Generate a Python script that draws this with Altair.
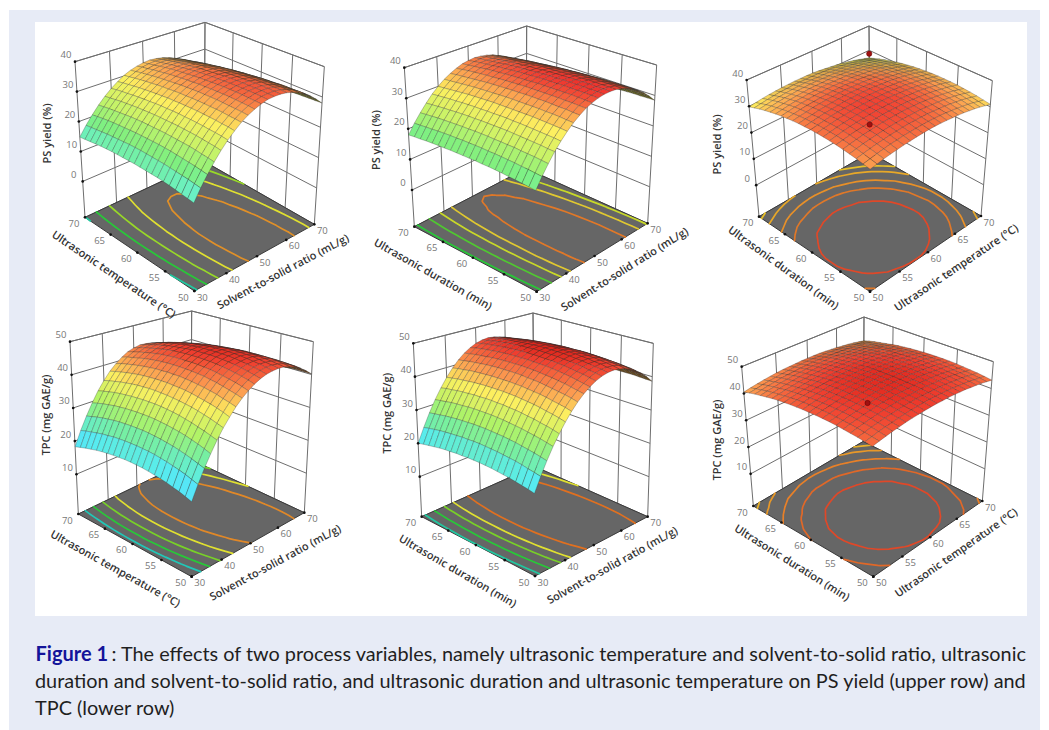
import altair as alt
W, H = 1033, 722
# Coded factor levels of the mesh: -1 is the low end of an axis, +1 the high end.
xs = [-1,-.9,-.8,-.7,-.6,-.5,-.4,-.3,-.2,-.1,0,.1,.2,.3,.4,.5,.6,.7,.8,.9,1]
N = len(xs)
# Surface heights in tenths of a unit, rows = second factor low to high, columns = first factor low to high.
# Corners, silhouettes and contour crossings were read off,
# and the mesh points between those readings were worked out by hand as a smooth fit to them.
PS_TEMP_RATIO = [
[138,173,204,233,259,282,302,320,334,345,354,360,362,362,359,353,344,333,318,300,280],
[141,176,207,236,262,285,305,322,336,347,355,361,363,363,360,354,345,333,318,300,279],
[144,179,210,238,264,287,306,323,337,348,356,362,364,364,360,354,344,332,317,299,278],
[147,181,212,241,266,288,308,325,338,349,357,362,364,364,360,353,344,332,316,298,277],
[150,183,214,243,268,290,309,326,339,350,358,362,364,364,360,353,343,331,315,297,276],
[152,185,216,244,269,291,310,326,340,350,358,362,364,363,359,352,342,329,314,295,274],
[154,187,218,245,270,292,311,327,340,350,358,362,364,362,358,351,341,328,312,293,272],
[155,188,219,246,271,292,311,327,340,350,357,361,363,361,357,349,339,326,310,291,269],
[156,189,220,247,271,293,311,327,340,349,356,360,362,360,355,348,337,324,308,288,266],
[157,190,220,247,271,293,311,326,339,349,355,359,360,358,353,346,335,321,305,286,263],
[158,191,220,247,271,292,310,326,338,347,354,358,358,356,351,343,332,319,302,282,260],
[158,191,220,247,271,292,310,325,337,346,352,356,356,354,349,341,330,316,299,279,256],
[158,191,220,247,270,291,308,323,335,344,350,354,354,352,346,338,326,312,295,275,252],
[158,190,219,246,269,289,307,322,333,342,348,351,351,349,343,334,323,309,291,271,248],
[158,189,218,245,268,288,305,320,331,340,346,348,348,346,340,331,319,305,287,267,244],
[157,188,217,243,266,286,303,317,329,337,343,345,345,342,336,327,315,300,283,262,239],
[156,187,216,241,264,284,301,315,326,334,340,342,342,338,332,323,311,296,278,257,234],
[154,185,214,239,262,281,298,312,323,331,336,338,338,334,328,318,306,291,273,252,228],
[152,183,212,237,259,279,295,309,320,327,332,334,334,330,323,314,301,286,268,246,222],
[150,181,209,234,256,276,292,305,316,324,328,330,329,325,318,309,296,280,262,241,216],
[148,179,206,231,253,272,288,302,312,319,324,326,324,320,313,303,290,275,256,234,210],
]
PS_DURATION_RATIO = [
[176,208,237,264,287,308,326,341,354,363,370,374,375,374,369,362,352,339,324,305,284],
[178,210,239,265,289,310,327,342,355,364,371,375,376,374,370,362,352,339,324,305,284],
[180,212,241,267,290,311,329,344,356,365,372,375,376,374,370,362,352,339,323,305,283],
[182,213,242,268,291,312,330,344,356,366,372,376,377,375,370,362,352,339,323,304,283],
[183,215,243,269,292,313,330,345,357,366,372,376,377,375,370,362,352,338,322,303,282],
[185,216,245,270,293,314,331,346,357,366,373,376,377,374,369,362,351,338,321,302,281],
[186,217,245,271,294,314,331,346,357,366,372,376,376,374,369,361,350,337,320,301,279],
[187,218,246,272,294,314,331,346,357,366,372,375,376,373,368,360,349,335,319,300,278],
[187,218,246,272,295,314,331,346,357,366,372,375,375,372,367,359,348,334,318,298,276],
[188,219,247,272,295,314,331,345,357,365,371,374,374,371,366,358,346,333,316,296,274],
[188,219,247,272,294,314,331,345,356,364,370,373,373,370,364,356,345,331,314,294,272],
[188,219,247,272,294,314,330,344,355,363,369,372,371,369,363,354,343,329,312,292,270],
[188,219,246,271,293,313,329,343,354,362,368,370,370,367,361,352,341,327,310,290,267],
[188,218,246,271,293,312,328,342,353,361,366,369,368,365,359,350,339,324,307,287,265],
[187,218,245,270,292,311,327,341,351,359,364,367,366,363,357,348,336,322,305,284,262],
[187,217,244,269,291,310,326,339,350,358,363,365,364,361,355,346,334,319,302,282,259],
[186,216,243,267,289,308,324,337,348,356,360,362,362,358,352,343,331,316,299,278,255],
[185,214,242,266,288,306,322,335,346,353,358,360,359,356,349,340,328,313,295,275,252],
[183,213,240,264,286,304,320,333,344,351,356,357,356,353,346,337,325,310,292,271,248],
[182,211,238,262,284,302,318,331,341,348,353,355,354,350,343,334,321,306,288,268,244],
[180,210,236,260,282,300,316,328,338,346,350,352,350,346,340,330,318,302,284,264,240],
]
PS_DURATION_TEMP = [
[338,342,346,349,351,353,354,355,355,355,354,352,349,346,343,339,334,329,323,316,309],
[342,346,350,353,356,357,359,359,359,359,358,356,354,351,347,343,338,333,327,320,313],
[346,350,354,357,359,361,362,363,363,362,361,360,357,354,351,347,342,337,331,324,317],
[349,353,357,360,362,364,365,366,366,365,364,363,360,357,354,350,345,340,334,327,320],
[351,355,359,362,364,366,368,368,368,368,367,365,363,360,356,352,347,342,336,329,322],
[353,357,361,364,366,368,369,370,370,369,368,367,364,361,358,354,349,343,338,331,324],
[354,358,362,365,367,369,370,371,371,370,369,368,365,362,359,355,350,344,339,332,325],
[354,358,362,365,367,369,371,371,371,371,370,368,365,363,359,355,350,345,339,332,325],
[354,358,361,365,367,369,370,371,371,370,369,367,365,362,359,354,350,344,338,332,325],
[353,357,360,364,366,368,369,370,370,369,368,366,364,361,358,353,349,343,337,331,324],
[351,355,359,362,364,366,368,368,368,368,367,365,362,360,356,352,347,342,336,329,322],
[349,353,356,360,362,364,365,366,366,365,364,362,360,357,354,349,345,339,333,327,320],
[346,350,353,357,359,361,362,363,363,362,361,359,357,354,351,346,342,336,330,324,317],
[342,346,350,353,355,357,358,359,359,359,357,356,353,350,347,343,338,333,327,320,313],
[338,342,346,349,351,353,354,355,355,354,353,352,349,346,343,339,334,328,323,316,309],
[333,337,341,344,346,348,349,350,350,349,348,347,344,341,338,334,329,323,318,311,304],
[327,331,335,338,340,342,344,344,344,344,343,341,339,336,332,328,323,318,312,305,298],
[321,325,329,332,334,336,337,338,338,337,336,335,332,329,326,322,317,312,306,299,292],
[314,318,322,325,327,329,330,331,331,330,329,328,325,322,319,315,310,305,299,292,285],
[306,310,314,317,320,321,323,323,323,323,322,320,318,315,311,307,302,297,291,284,277],
[298,302,306,309,311,313,314,315,315,315,314,312,309,306,303,299,294,289,283,276,269],
]
TPC_TEMP_RATIO = [
[176,214,249,281,311,338,361,383,401,416,429,439,446,450,452,451,446,440,430,417,402],
[182,220,255,288,317,344,368,389,407,422,435,444,451,455,456,454,449,442,432,418,402],
[188,226,261,294,323,350,374,394,412,428,440,449,455,459,459,457,452,444,433,419,402],
[192,231,266,299,328,355,379,400,417,432,444,453,459,462,462,459,454,445,433,419,401],
[197,235,271,304,333,360,383,404,422,436,448,457,462,465,465,461,455,445,433,418,399],
[200,239,275,308,337,364,387,408,425,440,451,460,465,467,466,462,455,445,432,416,397],
[203,242,278,311,341,367,391,411,429,443,454,462,467,469,467,463,455,445,431,414,394],
[206,245,281,314,344,370,394,414,431,445,456,464,468,470,468,463,455,444,429,412,391],
[208,247,283,316,346,372,396,416,433,447,457,465,469,470,468,462,454,442,427,409,387],
[209,248,285,318,348,374,397,418,434,448,458,465,469,470,467,461,452,439,424,405,383],
[210,249,286,319,349,375,399,418,435,448,458,465,469,469,466,459,450,436,420,400,378],
[210,249,286,319,349,376,399,419,435,448,458,465,468,467,464,457,447,433,416,395,372],
[209,249,286,319,349,376,399,418,435,448,457,463,466,465,461,454,443,429,411,390,365],
[208,248,285,318,348,375,398,418,434,446,456,461,464,463,458,450,439,424,406,384,358],
[206,247,284,317,347,374,397,416,432,445,454,459,461,459,454,446,434,418,399,377,351],
[204,244,282,315,345,372,395,414,430,442,451,456,458,456,450,441,429,412,393,370,343],
[201,242,279,313,343,369,392,411,427,439,447,452,454,451,445,436,423,406,385,362,334],
[197,238,276,309,340,366,389,408,423,435,443,448,449,446,440,430,416,399,378,353,325],
[193,234,272,306,336,362,385,404,419,431,439,443,444,440,434,423,409,391,369,344,315],
[188,230,267,301,332,358,381,400,415,426,434,438,438,434,427,416,401,382,360,334,304],
[183,225,262,296,327,353,376,394,409,421,428,432,431,427,420,408,393,373,350,324,293],
]
TPC_DURATION_RATIO = [
[198,236,271,303,331,357,380,400,417,431,442,450,455,457,455,451,444,434,421,405,386],
[202,240,275,307,336,362,385,405,421,435,446,454,459,460,459,455,447,437,423,407,387],
[205,243,279,311,340,366,389,409,425,439,450,457,462,464,462,457,450,439,425,408,388],
[208,247,282,314,343,369,392,412,429,443,453,461,465,466,465,460,452,441,427,409,389],
[211,250,285,317,347,373,396,415,432,446,456,464,468,469,467,462,454,442,428,410,389],
[213,252,288,320,349,376,399,418,435,449,459,466,470,471,469,464,455,443,429,411,389],
[215,254,290,322,352,378,401,421,437,451,461,468,472,473,470,465,456,444,429,410,389],
[217,256,292,324,354,380,403,423,439,453,463,470,474,474,471,466,457,444,429,410,388],
[218,257,293,326,355,382,405,424,441,454,464,471,475,475,472,466,457,444,428,409,387],
[219,258,294,327,357,383,406,426,442,455,465,472,475,476,472,466,456,443,427,408,385],
[219,259,295,328,357,384,407,427,443,456,466,473,476,476,472,466,456,443,426,406,383],
[219,259,295,328,358,384,407,427,443,456,466,473,476,475,472,465,455,441,424,404,381],
[218,258,295,328,358,384,407,427,443,456,466,472,475,475,471,464,453,439,422,402,378],
[218,258,294,328,357,384,407,427,443,456,465,472,474,474,470,462,451,437,420,399,374],
[216,256,293,327,357,383,406,426,442,455,464,470,473,472,468,460,449,435,417,395,371],
[215,255,292,325,355,382,405,425,441,454,463,469,471,470,466,458,447,432,414,392,367],
[213,253,290,324,354,380,404,423,439,452,461,467,469,468,463,455,444,428,410,388,362],
[210,251,288,322,352,378,402,421,437,450,459,465,467,465,460,452,440,425,406,383,357],
[207,248,285,319,349,376,399,419,435,448,457,462,464,462,457,449,436,421,401,378,352],
[204,245,282,316,347,373,397,416,432,445,454,459,461,459,454,445,432,416,396,373,346],
[200,241,279,313,343,370,393,413,429,441,450,455,457,455,449,440,427,411,391,367,340],
]
TPC_DURATION_TEMP = [
[435,440,444,448,451,454,456,457,458,459,459,458,458,456,454,452,448,445,441,436,431],
[439,443,448,451,454,457,459,461,462,463,463,462,461,460,458,455,452,449,444,440,435],
[442,446,451,454,458,460,462,464,465,466,466,465,464,463,461,458,455,452,448,443,438],
[444,449,453,457,460,463,465,467,468,468,468,468,467,465,463,461,458,454,450,445,440],
[446,451,455,459,462,465,467,469,470,470,470,470,469,467,465,463,460,456,452,447,442],
[448,452,457,460,464,466,468,470,471,472,472,471,470,469,467,464,461,458,454,449,444],
[449,453,458,461,464,467,469,471,472,473,473,472,471,470,468,465,462,459,454,450,445],
[449,454,458,462,465,468,470,471,472,473,473,473,472,470,468,466,462,459,455,450,445],
[449,454,458,462,465,467,470,471,472,473,473,472,472,470,468,465,462,459,455,450,445],
[448,453,457,461,464,467,469,471,472,472,472,472,471,469,467,465,462,458,454,449,444],
[447,452,456,460,463,466,468,469,470,471,471,471,470,468,466,464,460,457,453,448,443],
[445,450,454,458,461,464,466,468,469,469,469,469,468,466,464,462,459,455,451,446,441],
[443,448,452,456,459,461,464,465,466,467,467,466,466,464,462,459,456,453,449,444,439],
[440,445,449,453,456,459,461,462,463,464,464,464,463,461,459,457,453,450,446,441,436],
[437,441,446,449,452,455,457,459,460,461,461,460,459,458,456,453,450,447,442,438,433],
[433,437,442,445,449,451,453,455,456,457,457,456,455,454,452,449,446,443,439,434,429],
[428,433,437,441,444,447,449,451,452,452,452,452,451,449,447,445,442,438,434,429,424],
[423,428,432,436,439,442,444,446,447,447,447,447,446,444,442,440,437,433,429,424,419],
[418,422,427,430,434,436,438,440,441,442,442,441,440,439,437,434,431,428,424,419,414],
[412,416,421,424,427,430,432,434,435,436,436,435,434,433,431,428,425,422,417,413,408],
[405,410,414,418,421,424,426,427,428,429,429,429,428,426,424,422,418,415,411,406,401],
]

PS_STOPS = [(10,'#4fd8ff'),(14,'#62f0e0'),(20,'#80f080'),(25,'#c8f468'),(30,'#fdf060'),(34,'#fca050'),(37.5,'#f03830'),(40,'#c80000')]
TPC_STOPS = [(14,'#4fb8ff'),(18,'#55e0ff'),(22,'#58ecf0'),(27,'#78f0a0'),(31,'#b0f468'),(37,'#fdf060'),(41.5,'#fc9a50'),(46,'#f04030'),(50,'#c80000')]

PANELS = [
 dict(grid=PS_TEMP_RATIO, off=(35,15), F=(478,828), R=(838,628), L=(150,607), TL=(120,140), TR=(868,155), TB=(510,22), zr=(-12,40), zt=[0,10,20,30,40], stops=PS_STOPS, tr=1.18,
      ul=[30,40,50,60,70], vl=[50,55,60,65,70], levels=[15,20,25,30,34], lc=['#20c8a0','#28c838','#98d828','#e0e030','#e09028'],
      zt_title='PS yield (%)', vt='Ultrasonic temperature (°C)', ut='Solvent-to-solid ratio (mL/g)',
      tz=(38,355), tv=(235,780,34), tu=(745,772,-28), dots=[]),
 dict(grid=PS_DURATION_RATIO, off=(365,15), F=(515,830), R=(848,625), L=(148,635), TL=(118,158), TR=(875,150), TB=(485,33), zr=(-12,40), zt=[0,10,20,30,40], stops=PS_STOPS, tr=1.18,
      ul=[30,40,50,60,70], vl=[50,55,60,65,70], levels=[19.5,24.8,28.9,32,35.5], lc=['#28c838','#50c830','#c8d828','#e0c830','#e07828'],
      zt_title='PS yield (%)', vt='Ultrasonic duration (min)', ut='Solvent-to-solid ratio (mL/g)',
      tz=(35,375), tv=(203,780,29.4), tu=(780,765,-32), dots=[]),
 dict(grid=PS_DURATION_TEMP, off=(695,15), F=(525,830), R=(858,603), L=(192,605), TL=(155,195), TR=(892,197), TB=(522,33), zr=(-12,40), zt=[0,10,20,30,40], stops=PS_STOPS, tr=1.33,
      ul=[50,55,60,65,70], vl=[50,55,60,65,70], levels=[35.55,34.1,32.9,31.4,30.2], lc=['#e04828','#e07828','#e89028','#e8a828','#e8c028'],
      zt_title='PS yield (%)', vt='Ultrasonic duration (min)', ut='Ultrasonic temperature (°C)',
      tz=(70,388), tv=(264,760,36), tu=(785,760,-34), dots=[(0,0,23.1),(1,1,28.6)]),
 dict(grid=TPC_TEMP_RATIO, off=(35,320), F=(470,770), R=(808,578), L=(130,582), TL=(105,65), TR=(835,65), TB=(470,-27), zr=(-2,50), zt=[10,20,30,40,50], stops=TPC_STOPS, tr=1.18,
      ul=[30,40,50,60,70], vl=[50,55,60,65,70], levels=[23,28,33,38,43], lc=['#20c8b8','#28c838','#78d028','#e0e030','#e08828'],
      zt_title='TPC (mg GAE/g)', vt='Ultrasonic temperature (°C)', ut='Solvent-to-solid ratio (mL/g)',
      tz=(36,285), tv=(240,748,29), tu=(722,730,-28.4), dots=[]),
 dict(grid=TPC_DURATION_RATIO, off=(365,320), F=(510,768), R=(848,590), L=(170,590), TL=(145,70), TR=(865,70), TB=(504,-21), zr=(-2,50), zt=[10,20,30,40,50], stops=TPC_STOPS, tr=1.18,
      ul=[30,40,50,60,70], vl=[50,55,60,65,70], levels=[22.5,28.4,33.7,37.8,42.6], lc=['#20c8a0','#28c838','#78d028','#e0e030','#e07020'],
      zt_title='TPC (mg GAE/g)', vt='Ultrasonic duration (min)', ut='Solvent-to-solid ratio (mL/g)',
      tz=(68,280), tv=(277,755,30), tu=(743,738,-29), dots=[]),
 dict(grid=TPC_DURATION_TEMP, off=(695,320), F=(535,770), R=(862,543), L=(175,558), TL=(140,140), TR=(895,125), TB=(507,-9), zr=(-2,50), zt=[10,20,30,40,50], stops=TPC_STOPS, tr=1.35,
      ul=[50,55,60,65,70], vl=[50,55,60,65,70], levels=[46,44.7,43.4,42,41], lc=['#e04828','#e06828','#e88028','#e89828','#e8b028'],
      zt_title='TPC (mg GAE/g)', vt='Ultrasonic duration (min)', ut='Ultrasonic temperature (°C)',
      tz=(68,360), tv=(290,730,32), tu=(785,700,-35), dots=[(0,0,35.5)]),
]
RATIO = 1.18
def rgb(h): return [int(h[i:i+2],16) for i in (1,3,5)]
def cmap(z, stops, shade=1.0):
    if z <= stops[0][0]: c = rgb(stops[0][1])
    elif z >= stops[-1][0]: c = rgb(stops[-1][1])
    else:
        for (a,ca),(b,cb) in zip(stops, stops[1:]):
            if a <= z <= b:
                t = (z-a)/(b-a); A, B = rgb(ca), rgb(cb)
                c = [A[i]+(B[i]-A[i])*t for i in range(3)]
                break
    return '#%02x%02x%02x' % tuple(int(max(0,min(255,v*shade))) for v in c)
def homog(p0,p1,p2,p3):
    x0,y0=p0;x1,y1=p1;x2,y2=p2;x3,y3=p3
    sx=x0-x1+x2-x3; sy=y0-y1+y2-y3
    dx1=x1-x2;dx2=x3-x2;dy1=y1-y2;dy2=y3-y2
    den=dx1*dy2-dx2*dy1
    g=(sx*dy2-dx2*sy)/den; h=(dx1*sy-sx*dy1)/den
    A=x1-x0+g*x1;B=x3-x0+h*x3;D=y1-y0+g*y1;E=y3-y0+h*y3
    def f(a,b):
        w=g*a+h*b+1
        return ((A*a+B*b+x0)/w,(D*a+E*b+y0)/w)
    return f
def feat(kind, coords, **props):
    return {'type':'Feature','geometry':{'type':kind,'coordinates':coords},'properties':props}
def area(q):
    return 0.5*sum(q[i][0]*q[(i+1)%4][1]-q[(i+1)%4][0]*q[i][1] for i in range(4))

walls, floors, contours, quads = [], [], [], []
labels, titles, dots, tickdots = [], [], [], []
for k,p in enumerate(PANELS):
    ox,oy=p['off']
    g=lambda q:(ox+q[0]/3-8, oy+q[1]/3-8)
    F,R,L,TL,TR,TB=[g(p[n]) for n in ('F','R','L','TL','TR','TB')]
    mid=((L[0]+R[0])/2,(L[1]+R[1])/2)
    B=(mid[0]-(F[0]-mid[0])/RATIO, mid[1]-(F[1]-mid[1])/RATIO)
    mt=((TL[0]+TR[0])/2,(TL[1]+TR[1])/2)
    TF=(mt[0]+(mt[0]-TB[0])*p['tr'], mt[1]+(mt[1]-TB[1])*p['tr'])
    hf=homog(F,R,B,L); ht=homog(TF,TR,TB,TL)
    zlo,zhi=p['zr']
    def P(x,y,z,hf=hf,ht=ht,zlo=zlo,zhi=zhi):
        a,b=(x+1)/2,(y+1)/2
        f0=hf(a,b);t0=ht(a,b);w=(z-zlo)/(zhi-zlo)
        return [f0[0]+(t0[0]-f0[0])*w,f0[1]+(t0[1]-f0[1])*w]
    tk=[-1,-.5,0,.5,1]
    lines=[]
    for z in p['zt']+[zhi,zlo]:
        lines.append([P(-1,1,z),P(1,1,z),P(1,-1,z)])
    for t in tk:
        lines.append([P(t,1,zlo),P(t,1,zhi)])
        lines.append([P(1,t,zlo),P(1,t,zhi)])
    walls.append(feat('MultiLineString',lines))
    floors.append(feat('Polygon',[[P(-1,-1,zlo),P(1,-1,zlo),P(1,1,zlo),P(-1,1,zlo),P(-1,-1,zlo)]]))
    Z=[[v/10 for v in row] for row in p['grid']]
    for lev0,col in zip(p['levels'],p['lc']):
        lev=lev0+0.0137  # keeps a level off the tenths of the grid, so no crossing is lost to a tie
        segs=[]
        for j in range(N-1):
            for i in range(N-1):
                c=[(i,j),(i+1,j),(i+1,j+1),(i,j+1)]
                pts=[]
                for m in range(4):
                    a,b=c[m],c[(m+1)%4]
                    za,zb=Z[a[1]][a[0]],Z[b[1]][b[0]]
                    if (za-lev)*(zb-lev)<0:
                        t=(lev-za)/(zb-za)
                        pts.append(P(xs[a[0]]+(xs[b[0]]-xs[a[0]])*t, xs[a[1]]+(xs[b[1]]-xs[a[1]])*t, zlo))
                if len(pts)>=2: segs.append(pts[:2])
                if len(pts)==4: segs.append(pts[2:])
        contours.append(feat('MultiLineString',segs,c=col))
    for i in range(N-2,-1,-1):
        for j in range(N-2,-1,-1):
            zs=[Z[j][i],Z[j][i+1],Z[j+1][i+1],Z[j+1][i]]
            q=[P(xs[i],xs[j],zs[0]),P(xs[i+1],xs[j],zs[1]),P(xs[i+1],xs[j+1],zs[2]),P(xs[i],xs[j+1],zs[3])]
            zm=sum(zs)/4
            fl=[P(xs[i],xs[j],zm),P(xs[i+1],xs[j],zm),P(xs[i+1],xs[j+1],zm),P(xs[i],xs[j+1],zm)]
            s=area(q)/area(fl)
            sh=1.0 if s>=.75 else max(.4,.5+.5*s/.75)
            quads.append(feat('Polygon',[q+[q[0]]],c=cmap(zm,p['stops'],sh)))
    for t,u,v in zip(tk,p['ul'],p['vl']):
        a=P(t,-1,zlo); b=P(-1,t,zlo)
        labels.append(dict(x=a[0]+8,y=a[1]+6.5,t=str(u)))
        labels.append(dict(x=b[0]-11,y=b[1]+6.5,t=str(v)))
        tickdots += [dict(x=a[0],y=a[1]),dict(x=b[0],y=b[1])]
    for z in p['zt']:
        a=P(-1,1,z)
        labels.append(dict(x=a[0]-9,y=a[1]-6.5,t=str(z)))
        tickdots.append(dict(x=a[0],y=a[1]))
    sc=lambda q:(ox+q[0]/3-8,oy+q[1]/3-8)
    a=sc(p['tz']); titles.append(dict(x=a[0],y=a[1],t=p['zt_title'],a=270))
    a=sc(p['tv']); titles.append(dict(x=a[0],y=a[1],t=p['vt'],a=p['tv'][2]))
    a=sc(p['tu']); titles.append(dict(x=a[0],y=a[1],t=p['ut'],a=p['tu'][2]%360))
    for d in p['dots']:
        a=P(*d); dots.append(dict(x=a[0],y=a[1]))

X=lambda f='x':alt.X(f+':Q',scale=alt.Scale(domain=[0,W]),axis=None)
Y=lambda f='y':alt.Y(f+':Q',scale=alt.Scale(domain=[H,0]),axis=None)
geo=lambda data,**kw:alt.Chart(alt.Data(values=data)).mark_geoshape(**kw).project(type='identity',scale=1,translate=[0,0])

bg=[dict(x=1,x2=1032,y=2,y2=722,c='#e7ebf6'),dict(x=27,x2=1019,y=14,y2=608,c='#ffffff')]
L_bg=alt.Chart(alt.Data(values=bg)).mark_rect().encode(x=X(),x2='x2:Q',y=Y(),y2='y2:Q',color=alt.Color('c:N',scale=None))
L_w=geo(walls,filled=False,stroke='#6e6e6e',strokeWidth=1)
L_f=geo(floors,filled=True,fill='#666666',stroke='#3a3a3a',strokeWidth=1)
L_c=geo(contours,filled=False,strokeWidth=1.7,strokeCap='round').encode(stroke=alt.Stroke('properties.c:N',scale=None))
L_q=geo(quads,filled=True,stroke='#2b2b2b',strokeWidth=.55,strokeOpacity=.5).encode(color=alt.Color('properties.c:N',scale=None))
L_t=alt.Chart(alt.Data(values=tickdots)).mark_circle(size=7,color='#111',opacity=1).encode(x=X(),y=Y())
L_d=alt.Chart(alt.Data(values=dots)).mark_circle(size=28,color='#a01010',opacity=1,stroke='#600000',strokeWidth=.5).encode(x=X(),y=Y())
L_l=alt.Chart(alt.Data(values=labels)).mark_text(font='Open Sans',fontSize=9.5,color='#777777').encode(x=X(),y=Y(),text='t:N')
L_ti=alt.Chart(alt.Data(values=titles)).mark_text(font='Open Sans',fontSize=11,fontWeight=600,color='#333333').encode(x=X(),y=Y(),text='t:N',angle=alt.Angle('a:Q',scale=None))
CAP=[dict(x=103.5,y=652.5,t=': The effects of two process variables, namely ultrasonic temperature and solvent-to-solid ratio, ultrasonic'),
     dict(x=27,y=680,t='duration and solvent-to-solid ratio, and ultrasonic duration and ultrasonic temperature on PS yield (upper row) and'),
     dict(x=27,y=707,t='TPC (lower row)')]
L_cap=alt.Chart(alt.Data(values=CAP)).mark_text(font='Lato',fontSize=19.88,align='left',baseline='alphabetic',color='#1f1f1f').encode(x=X(),y=Y(),text='t:N')
L_fig=alt.Chart(alt.Data(values=[dict(x=27.5,y=652.5,t='Figure 1')])).mark_text(font='Lato',fontSize=20,fontWeight='bold',align='left',baseline='alphabetic',color='#14149a').encode(x=X(),y=Y(),text='t:N')
chart=alt.layer(L_bg,L_w,L_f,L_c,L_q,L_t,L_d,L_l,L_ti,L_cap,L_fig).properties(width=W,height=H,padding=0,autosize='none').configure_view(stroke=None)
chart.save("out.html",embed_options={"renderer":"svg","actions":False})
